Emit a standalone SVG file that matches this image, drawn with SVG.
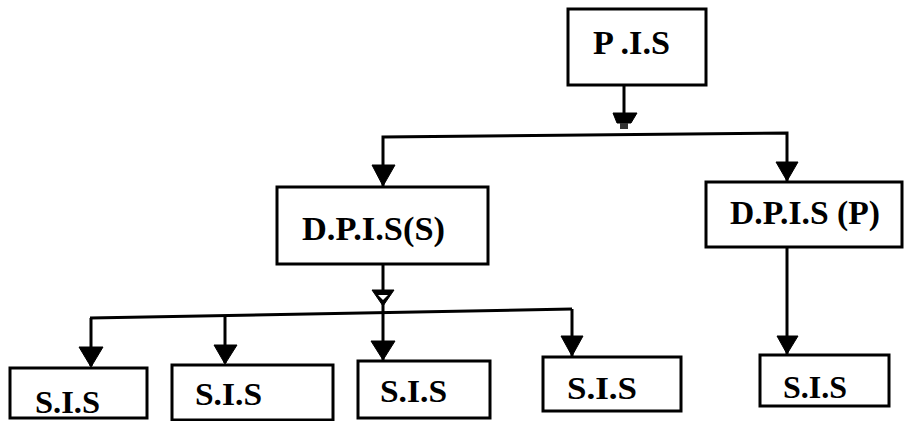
<svg xmlns="http://www.w3.org/2000/svg" width="905" height="421" viewBox="0 0 905 421">
<style>
.box{fill:#fff;stroke:#000;stroke-width:3}
.lbl{font-family:"Liberation Serif","Times New Roman",serif;font-weight:bold;font-size:33px;fill:#000}
.sm{font-size:31px}
.ln{fill:none;stroke:#000;stroke-width:3}
.ah{fill:#000;stroke:#000;stroke-width:1}
</style>
<rect width="905" height="421" fill="#fff"/>
<g id="connectors">
<line class="ln" x1="624" y1="85" x2="624" y2="114"/>
<polygon class="ah" points="613,113 637,113 631,123 617,123"/>
<rect x="620" y="123" width="8" height="6" fill="#333"/>
<polyline class="ln" points="383,186 383,137 787,133 787,181"/>
<polygon class="ah" points="372,165 395,165 383,186"/>
<polygon class="ah" points="776,162 798,162 787,181"/>
<line class="ln" x1="383" y1="264" x2="383" y2="361"/>
<polygon class="ah" points="372,290 394,290 383,306"/>
<polygon points="378,295 388,295 383,300" fill="#fff"/>
<polygon class="ah" points="371,341 395,341 383,360"/>
<line class="ln" x1="90" y1="318" x2="572" y2="309"/>
<line class="ln" x1="91" y1="318" x2="91" y2="366"/>
<polygon class="ah" points="79,347 103,347 91,367"/>
<line class="ln" x1="225" y1="316" x2="225" y2="363"/>
<polygon class="ah" points="214,345 237,345 225,364"/>
<line class="ln" x1="572" y1="309" x2="572" y2="356"/>
<polygon class="ah" points="561,336 583,336 572,356"/>
<line class="ln" x1="787" y1="247" x2="787" y2="354"/>
<polygon class="ah" points="777,336 798,336 787,354"/>
</g>
<g id="pis">
<rect class="box" x="568" y="9" width="138" height="76"/>
<text class="lbl" x="593" y="54" textLength="77" lengthAdjust="spacingAndGlyphs">P .I.S</text>
</g>
<g id="dpis_s">
<rect class="box" x="277" y="187" width="211" height="77"/>
<text class="lbl" x="302" y="240" textLength="143" lengthAdjust="spacingAndGlyphs">D.P.I.S(S)</text>
</g>
<g id="dpis_p">
<rect class="box" x="706" y="182" width="196" height="65"/>
<text class="lbl" x="730" y="224" textLength="150" lengthAdjust="spacingAndGlyphs">D.P.I.S (P)</text>
</g>
<g id="sis1">
<rect class="box" x="10" y="368" width="137" height="50"/>
<text class="lbl sm" x="35" y="413" textLength="65" lengthAdjust="spacingAndGlyphs">S.I.S</text>
</g>
<g id="sis2">
<rect class="box" x="172" y="365" width="161" height="55"/>
<text class="lbl sm" x="195" y="405" textLength="67" lengthAdjust="spacingAndGlyphs">S.I.S</text>
</g>
<g id="sis3">
<rect class="box" x="358" y="361" width="132" height="57"/>
<text class="lbl sm" x="380" y="402" textLength="67" lengthAdjust="spacingAndGlyphs">S.I.S</text>
</g>
<g id="sis4">
<rect class="box" x="543" y="357" width="138" height="54"/>
<text class="lbl sm" x="567" y="399" textLength="70" lengthAdjust="spacingAndGlyphs">S.I.S</text>
</g>
<g id="sis5">
<rect class="box" x="760" y="355" width="129" height="51"/>
<text class="lbl sm" x="783" y="398" textLength="64" lengthAdjust="spacingAndGlyphs">S.I.S</text>
</g>
</svg>
